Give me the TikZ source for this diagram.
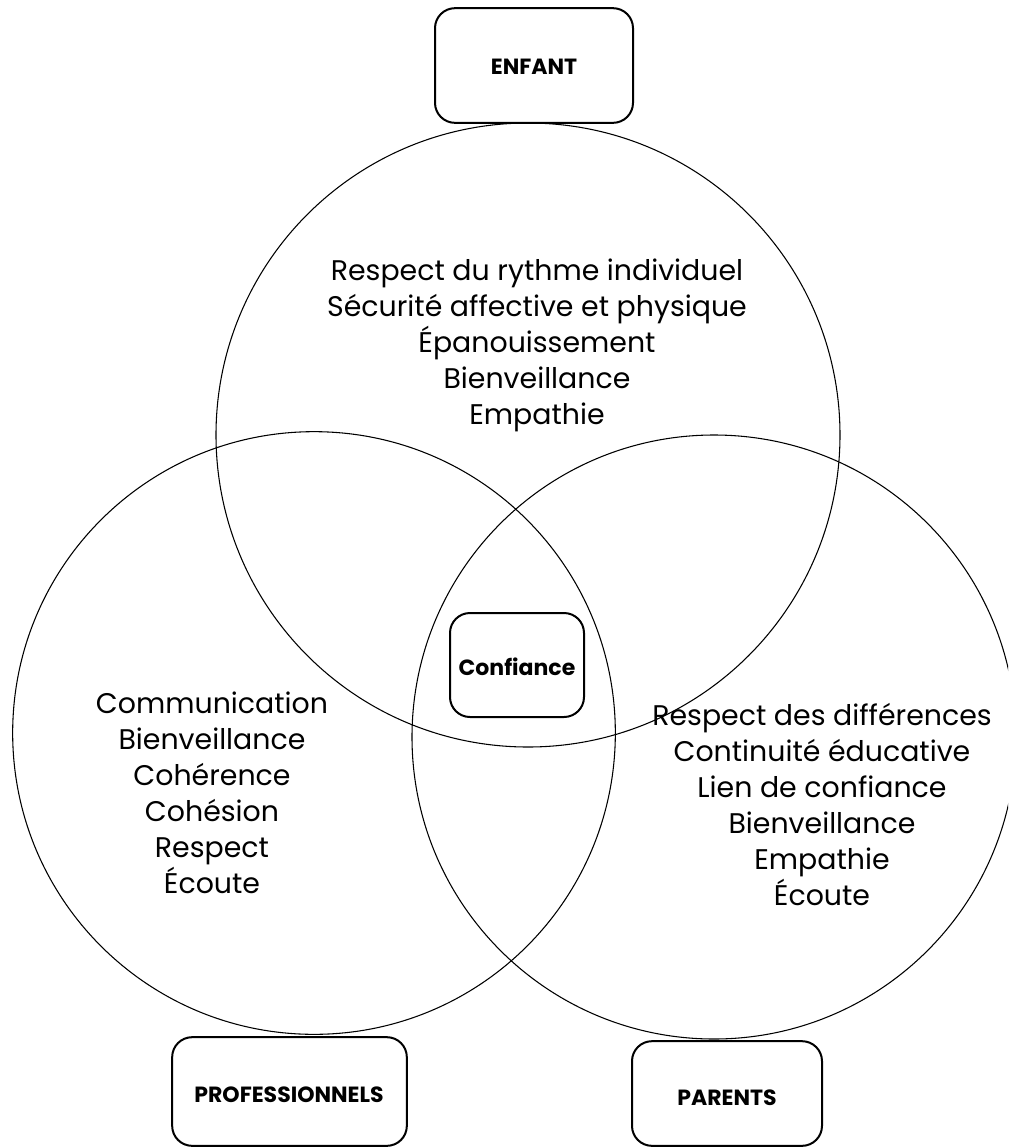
\documentclass[tikz,border=0pt]{standalone}
\usepackage{fontspec}
\setmainfont{Poppins}
\usetikzlibrary{positioning}
\tikzset{
  ring/.style={draw, circle, line width=0.8pt, inner sep=0pt},
  labelbox/.style={draw, rounded corners=15pt, line width=1.5pt, fill=white, inner sep=0pt},
  bodytext/.style={align=center, font=\fontsize{21.3}{27}\selectfont},
  boldtext/.style={font=\fontsize{16.5}{19}\selectfont\bfseries}
}
\begin{document}
\begin{tikzpicture}[x=0.75pt,y=-0.75pt]
\useasboundingbox (0,0) rectangle (1008,1147);
\begin{scope}
\clip (0,0) rectangle (1008,1147);
\node[ring, minimum size=468pt] (cEnfant) at (528,435) {};
\node[ring, minimum size=452pt] (cPro) at (314,733) {};
\node[ring, minimum size=453pt] (cPar) at (714,737) {};
\node[labelbox, minimum width=148.5pt, minimum height=86pt] (bEnfant) at (534,65.5) {};
\node[labelbox, minimum width=176pt, minimum height=81.5pt] (bPro) at (289.5,1091.5) {};
\node[labelbox, minimum width=142.5pt, minimum height=78.5pt] (bPar) at (727,1093.5) {};
\end{scope}
\node[boldtext] (tEnfant) at (534,67) {ENFANT};
\node[boldtext] (tPro) at (289,1095) {PROFESSIONNELS};
\node[boldtext] (tPar) at (727,1098) {PARENTS};
\node[labelbox, minimum width=100.5pt, minimum height=78pt] (bConf) at (517,665) {};
\node[boldtext] (tConf) at (517,667) {Confiance};
\node[bodytext] (tTop) at (537,345) {Respect du rythme individuel\\Sécurité affective et physique\\Épanouissement\\Bienveillance\\Empathie};
\node[bodytext] (tLeft) at (212,793) {Communication\\Bienveillance\\Cohérence\\Cohésion\\Respect\\Écoute};
\node[bodytext] (tRight) at (822,805) {Respect des différences\\Continuité éducative\\Lien de confiance\\Bienveillance\\Empathie\\Écoute};
\end{tikzpicture}
\end{document}
